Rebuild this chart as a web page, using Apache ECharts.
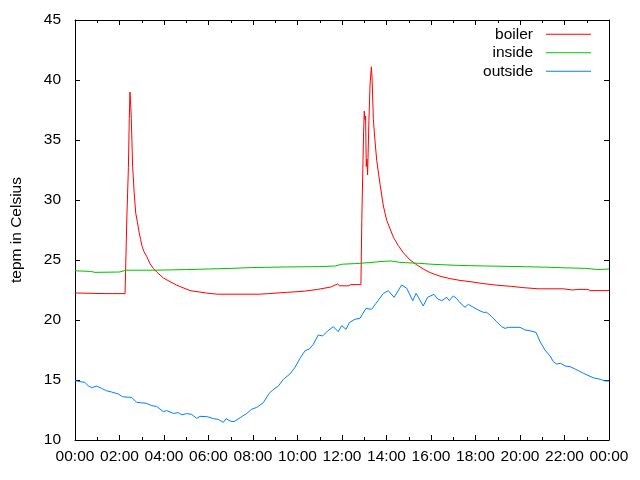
<!DOCTYPE html>
<html>
<head>
<meta charset="utf-8">
<script src="https://cdn.jsdelivr.net/npm/echarts@6/dist/echarts.min.js"></script>
<style>html,body{margin:0;padding:0;background:#fff;}#c{width:640px;height:480px;}</style>
</head>
<body>
<div id="c"></div>
<script>
var xTickLabels = ['00:00','02:00','04:00','06:00','08:00','10:00','12:00','14:00','16:00','18:00','20:00','22:00','00:00'];
var seriesNames = ['boiler', 'inside', 'outside'];

var boilerTimes = [0,1.4,2.25,2.31,2.33,2.40,2.44,2.47,2.51,2.53,2.59,2.66,2.73,2.81,2.88,2.95,3.02,3.1,3.22,3.37,3.52,3.67,3.97,4.27,4.57,5.17,5.9,6.4,8.3,8.7,9.5,10.3,10.9,11.5,11.79,11.9,12.3,12.4,12.85,12.89,12.93,12.97,13.0,13.03,13.06,13.09,13.12,13.15,13.21,13.26,13.32,13.35,13.38,13.41,13.48,13.56,13.71,13.86,14.01,14.16,14.31,14.53,14.76,15.06,15.36,15.65,15.96,16.4,16.85,17.3,17.75,18.28,18.95,19.63,20.13,20.81,21.93,22.37,22.6,23.06,23.15,24];
var boilerVals  = [22.25,22.2,22.2,22.25,28.5,32.7,36.8,39.0,37.7,36.8,32.8,30.6,28.9,28.1,27.3,26.7,26.1,25.7,25.3,24.7,24.3,24.0,23.5,23.2,22.9,22.45,22.25,22.15,22.15,22.2,22.3,22.4,22.55,22.75,23.0,22.85,22.85,22.95,22.95,28.3,32.0,35.6,37.4,36.7,37.0,32.8,33.4,32.1,36.6,39.6,41.1,40.2,38.5,36.7,35.0,33.3,31.3,29.5,28.3,27.6,26.9,26.2,25.6,25.0,24.6,24.25,23.95,23.65,23.45,23.3,23.2,23.05,22.9,22.8,22.7,22.6,22.6,22.5,22.55,22.55,22.45,22.45];

var insideTimes = [0,0.7,0.9,2.0,2.3,3.5,5.0,6.0,7.0,8.0,9.5,11.0,11.7,12.0,12.6,13.2,13.8,14.2,14.6,15.5,16.0,17.2,18.5,20.0,21.2,22.0,23.0,23.5,24];
var insideVals  = [24.1,24.05,23.97,24.0,24.15,24.15,24.2,24.25,24.3,24.37,24.42,24.45,24.5,24.65,24.7,24.78,24.88,24.92,24.8,24.72,24.65,24.55,24.5,24.45,24.4,24.35,24.3,24.2,24.25];

var outsideTimes = [0,0.45,0.6,0.75,0.97,1.2,1.42,1.65,1.95,2.14,2.55,2.77,3.22,3.45,3.67,3.97,4.12,4.42,4.64,4.8,5.02,5.24,5.47,5.62,5.92,6.22,6.44,6.67,6.79,6.97,7.15,7.42,7.72,7.94,8.17,8.46,8.73,8.94,9.14,9.36,9.66,9.89,10.11,10.34,10.53,10.71,10.93,11.13,11.36,11.61,11.83,11.99,12.18,12.33,12.58,12.81,13.08,13.33,13.53,13.86,14.08,14.34,14.68,14.91,15.18,15.33,15.65,15.85,16.13,16.3,16.48,16.71,16.82,17.0,17.15,17.3,17.53,17.68,17.9,18.13,18.35,18.5,18.73,18.95,19.18,19.33,19.47,20.0,20.22,20.45,20.72,20.9,21.12,21.35,21.5,21.65,21.83,22.02,22.25,22.47,22.85,23.29,23.6,23.82,24];
var outsideVals  = [14.94,14.8,14.5,14.36,14.5,14.3,14.1,14.0,13.83,13.6,13.55,13.14,13.05,12.86,12.8,12.36,12.45,12.22,12.28,12.1,12.2,12.14,11.8,11.97,11.95,11.78,11.72,11.47,11.78,11.58,11.53,11.86,12.22,12.56,12.72,13.1,13.9,14.25,14.5,15.05,15.5,16.06,16.8,17.44,17.58,17.97,18.75,18.67,19.1,19.44,19.03,19.53,19.22,19.78,20.06,20.14,20.97,20.89,21.39,22.22,22.44,21.89,22.92,22.64,21.61,22.22,21.17,21.89,22.14,21.75,21.61,21.89,21.61,22.0,21.8,21.44,21.06,21.3,21.06,20.83,20.64,20.64,20.28,19.86,19.44,19.3,19.39,19.39,19.17,19.1,18.97,18.2,17.5,17.0,16.53,16.33,16.39,16.17,16.11,15.92,15.56,15.19,15.06,14.92,14.92];

function pairs(t, v) { return t.map(function (x, i) { return [x, v[i]]; }); }

var FONT = '"Liberation Sans", Arial, sans-serif';
var FS = 15.5;
var colors = ['#ff0000', '#00c000', '#0080ff'];

var baseX = {
  type: 'value', min: 0, max: 24, interval: 2,
  axisLine: { show: true, onZero: false, lineStyle: { color: '#000', width: 1 } },
  axisTick: { show: true, inside: true, length: 5, lineStyle: { color: '#000' } },
  minorTick: { show: true, splitNumber: 2, length: 3, lineStyle: { color: '#000' } },
  splitLine: { show: false }
};
var baseY = {
  type: 'value', min: 10, max: 45, interval: 5,
  axisLine: { show: true, onZero: false, lineStyle: { color: '#000', width: 1 } },
  axisTick: { show: true, inside: true, length: 5, lineStyle: { color: '#000' } },
  splitLine: { show: false }
};

var chart = echarts.init(document.getElementById('c'), null, { renderer: 'canvas' });
chart.setOption({
  animation: false,
  backgroundColor: '#fff',
  textStyle: { fontFamily: FONT },
  grid: { left: 75, right: 31, top: 20, bottom: 40, containLabel: false },
  xAxis: [
    Object.assign({}, baseX, {
      position: 'bottom',
      axisLabel: { show: true, margin: 9, color: '#000', fontSize: FS, fontFamily: FONT,
        formatter: function (v) { return xTickLabels[Math.round(v / 2)]; } }
    }),
    Object.assign({}, baseX, { position: 'top', axisLabel: { show: false } })
  ],
  yAxis: [
    Object.assign({}, baseY, {
      position: 'left',
      name: 'tepm in Celsius', nameLocation: 'middle', nameGap: 50, nameRotate: 90,
      nameTextStyle: { color: '#000', fontSize: FS, fontFamily: FONT },
      axisLabel: { show: true, margin: 14, color: '#000', fontSize: FS, fontFamily: FONT }
    }),
    Object.assign({}, baseY, { position: 'right', axisLabel: { show: false } })
  ],
  legend: {
    data: seriesNames,
    orient: 'vertical', right: 44, top: 20, align: 'right',
    icon: 'rect', itemWidth: 45, itemHeight: 1, itemGap: 0,
    textStyle: { color: '#000', fontSize: FS, fontFamily: FONT, lineHeight: 18.5, width: 60, align: 'right', padding: [0, 8, 0, 0] }
  },
  series: [
    { name: seriesNames[0], type: 'line', data: pairs(boilerTimes, boilerVals), color: colors[0] },
    { name: seriesNames[1], type: 'line', data: pairs(insideTimes, insideVals), color: colors[1] },
    { name: seriesNames[2], type: 'line', data: pairs(outsideTimes, outsideVals), color: colors[2] }
  ].map(function (s) {
    s.showSymbol = false; s.symbol = 'none'; s.xAxisIndex = 0; s.yAxisIndex = 0;
    s.lineStyle = { width: 1, color: s.color };
    s.itemStyle = { color: s.color };
    return s;
  })
});
</script>
</body>
</html>
